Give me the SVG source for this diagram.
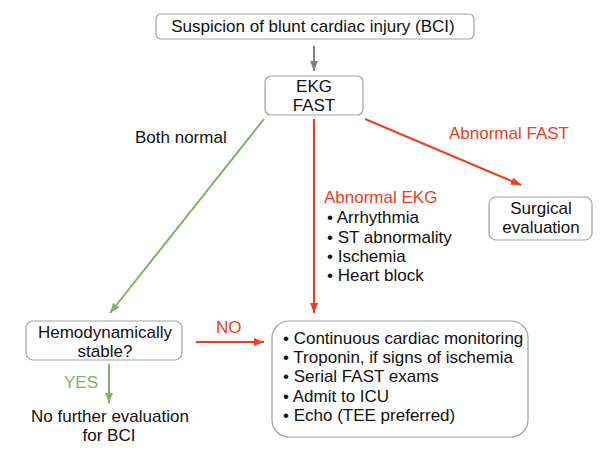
<svg xmlns="http://www.w3.org/2000/svg" width="615" height="464" viewBox="0 0 615 464">
<style>
text{font-family:"Liberation Sans",Arial,sans-serif;font-size:17px;fill:#111}
.c{text-anchor:middle}
.box{fill:#fff;stroke:#a0a0a0;stroke-width:1.2}
.red{fill:#f03c1e}
.grn{fill:#7fb266}
.lr{stroke:#f03c1e;stroke-width:2;fill:none}
.lg{stroke:#80b266;stroke-width:2;fill:none}
.lk{stroke:#808080;stroke-width:2;fill:none}
</style>
<defs>
<marker id="ar" viewBox="0 0 10 8" refX="10" refY="4" markerWidth="10" markerHeight="8" markerUnits="userSpaceOnUse" orient="auto"><path d="M0,0 L10,4 L0,8 z" fill="#f03c1e"/></marker>
<marker id="ag" viewBox="0 0 10 8" refX="10" refY="4" markerWidth="10" markerHeight="8" markerUnits="userSpaceOnUse" orient="auto"><path d="M0,0 L10,4 L0,8 z" fill="#80b266"/></marker>
<marker id="ak" viewBox="0 0 10 8" refX="10" refY="4" markerWidth="10" markerHeight="8" markerUnits="userSpaceOnUse" orient="auto"><path d="M0,0 L10,4 L0,8 z" fill="#808080"/></marker>
</defs>
<rect width="615" height="464" fill="#fff"/>
<g id="connectors">
<line class="lk" x1="314" y1="46" x2="314" y2="71" marker-end="url(#ak)"/>
<line class="lg" x1="264" y1="119" x2="110" y2="313" marker-end="url(#ag)"/>
<line class="lr" x1="314" y1="119" x2="314" y2="313" marker-end="url(#ar)"/>
<line class="lr" x1="365" y1="119" x2="521" y2="185" marker-end="url(#ar)"/>
<line class="lr" x1="196" y1="342" x2="264" y2="342" marker-end="url(#ar)"/>
<line class="lg" x1="109" y1="364" x2="109" y2="403" marker-end="url(#ag)"/>
<text x="135" y="143">Both normal</text>
<text class="red" x="449" y="139">Abnormal FAST</text>
<text class="red" x="216" y="333">NO</text>
<text class="grn" x="64" y="388">YES</text>
</g>
<g id="top">
<rect class="box" x="156" y="14" width="318" height="25" rx="5"/>
<text class="c" x="313" y="32">Suspicion of blunt cardiac injury (BCI)</text>
</g>
<g id="ekgfast">
<rect class="box" x="265" y="76" width="98" height="39" rx="6"/>
<text class="c" x="314" y="92">EKG</text>
<text class="c" x="314" y="111">FAST</text>
</g>
<g id="abnormal-ekg">
<text class="red" x="324" y="203">Abnormal EKG</text>
<text x="327" y="223">• Arrhythmia</text>
<text x="327" y="243">• ST abnormality</text>
<text x="327" y="262">• Ischemia</text>
<text x="327" y="281">• Heart block</text>
</g>
<g id="surgical">
<rect class="box" x="489" y="197" width="103" height="43" rx="7"/>
<text class="c" x="541" y="214">Surgical</text>
<text class="c" x="541" y="233">evaluation</text>
</g>
<g id="hemo">
<rect class="box" x="26" y="321" width="156" height="39" rx="7"/>
<text class="c" x="105" y="338">Hemodynamically</text>
<text class="c" x="105" y="357">stable?</text>
</g>
<g id="nofurther">
<text class="c" x="110" y="422">No further evaluation</text>
<text class="c" x="109" y="441">for BCI</text>
</g>
<g id="management">
<rect class="box" x="272" y="321" width="256" height="116" rx="17"/>
<text x="283" y="344">• Continuous cardiac monitoring</text>
<text x="283" y="363">• Troponin, if signs of ischemia</text>
<text x="283" y="382">• Serial FAST exams</text>
<text x="283" y="402">• Admit to ICU</text>
<text x="283" y="421">• Echo (TEE preferred)</text>
</g>
</svg>
